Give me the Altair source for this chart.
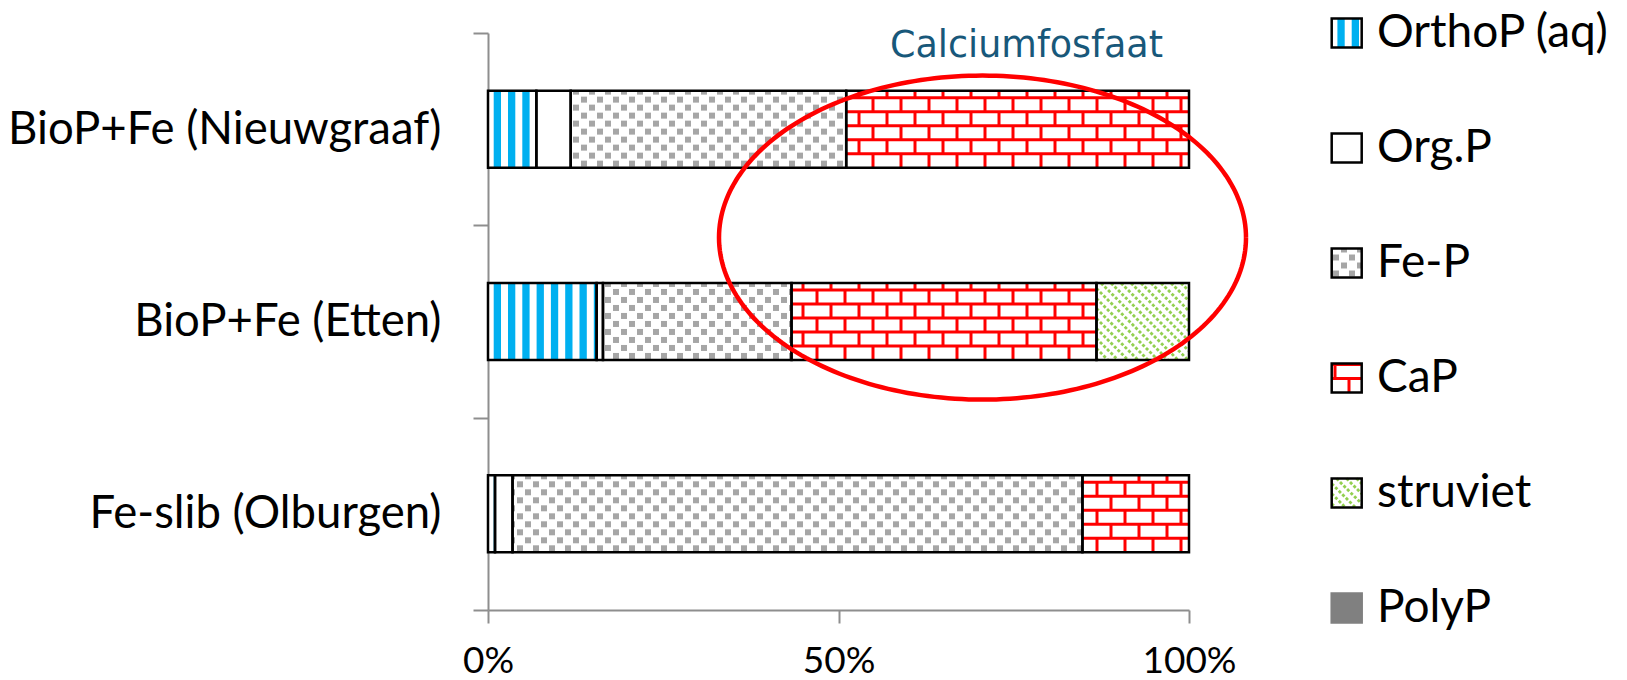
import math

import altair as alt
import pandas as pd

# ---------------------------------------------------------------- data
categories = ["BioP+Fe (Nieuwgraaf)", "BioP+Fe (Etten)", "Fe-slib (Olburgen)"]
components = ["OrthoP (aq)", "Org.P", "Fe-P", "CaP", "struviet", "PolyP"]

# share of total P per fraction (%), in the order of `categories`
ortho_p = [6.9, 15.5, 1.0]
org_p = [4.9, 0.9, 2.5]
fe_p = [39.3, 26.9, 81.3]
ca_p = [48.9, 43.5, 15.2]
struviet = [0.0, 13.2, 0.0]
poly_p = [0.0, 0.0, 0.0]

x_ticks = [0.0, 0.5, 1.0]
callout_text = "Calciumfosfaat"

series = dict(zip(components, [ortho_p, org_p, fe_p, ca_p, struviet, poly_p]))

# ---------------------------------------------------------------- layout / style
PLOT_W, PLOT_H = 701, 577
N = len(categories)
PX_X = PLOT_W / 1.0          # pixels per unit on x (0..1)
PX_Y = PLOT_H / N            # pixels per unit on y (one band per category)
BAR_HALF = 0.2               # half bar thickness, band units

FONT = "Lato"
AXIS_GREY = "#8E8E8E"
BLUE, RED, GREEN, DOT_GREY, POLY_GREY = "#00B0F0", "#FF0000", "#92D050", "#A6A6A6", "#808080"
CALLOUT_COLOR = "#18587A"

# legend block, in the chart's own x/y units
LEG_X0 = (1331.7 - 488) / PX_X
LEG_W = 30 / PX_X
LEG_HALF = 14.5 / PX_Y
LEG_TEXT_X = (1377 - 488) / PX_X
LEG_STEP = 115 / PX_Y

# callout ellipse and its caption, in the chart's own x/y units
ELL_CX, ELL_CY = (982.5 - 488) / PX_X, (610 - 237.6) / PX_Y
ELL_RX, ELL_RY = 263.5 / PX_X, 162 / PX_Y
CAPTION_X, CAPTION_Y = (1026.5 - 488) / PX_X, (610 - 56.7) / PX_Y

# ---------------------------------------------------------------- boxes (bar segments + legend keys)
boxes = []
for ci, cat in enumerate(categories):
    yc = N - ci - 0.5
    start = 0.0
    for comp in components:
        v = series[comp][ci] / 100.0
        if v > 0:
            boxes.append(dict(component=comp, x0=start, x1=start + v,
                              y0=yc - BAR_HALF, y1=yc + BAR_HALF))
        start += v

legend_rows = []
for i, comp in enumerate(components):
    yc = N - i * LEG_STEP
    boxes.append(dict(component=comp, x0=LEG_X0, x1=LEG_X0 + LEG_W,
                      y0=yc - LEG_HALF, y1=yc + LEG_HALF))
    legend_rows.append(dict(label=comp, tx=LEG_TEXT_X, ty=yc))

for b in boxes:
    b["base"] = POLY_GREY if b["component"] == "PolyP" else "white"
    b["edge"] = POLY_GREY if b["component"] == "PolyP" else "black"


def px(b):
    return b["x0"] * PX_X, b["x1"] * PX_X, b["y0"] * PX_Y, b["y1"] * PX_Y


# ---------------------------------------------------------------- fill patterns
def vertical_stripes(b, period=14.3, width=7.3, phase=5.7):
    a, e, lo_y, hi_y = px(b)
    out = []
    k = math.floor((a - phase) / period) - 1
    while phase + k * period <= e:
        s = phase + k * period
        lo, hi = max(s, a), min(s + width, e)
        if hi - lo > 0.3:
            out.append(dict(x0=lo / PX_X, x1=hi / PX_X, y0=b["y0"], y1=b["y1"]))
        k += 1
    return out


def dot_grid(b, dx=16.0, dy=8.0, size=6.0):
    a, e, lo_y, hi_y = px(b)
    out = []
    row = 0
    cy = lo_y + dy / 2
    while cy - size / 2 < hi_y:
        shift = dx / 2 if row % 2 else 0.0
        k = math.floor((a - shift) / dx) - 1
        while shift + k * dx - size / 2 <= e:
            cx = shift + k * dx
            l, r = max(cx - size / 2, a), min(cx + size / 2, e)
            btm, top = max(cy - size / 2, lo_y), min(cy + size / 2, hi_y)
            if r - l > 0.5 and top - btm > 0.5:
                out.append(dict(x0=l / PX_X, x1=r / PX_X, y0=btm / PX_Y, y1=top / PX_Y))
            k += 1
        row += 1
        cy += dy
    return out


def brick_lines(b, row=14.0, brick=28.0, phases=(21.0, 7.0)):
    a, e, lo_y, hi_y = px(b)
    out = []
    k = 1
    while lo_y + k * row < hi_y - 1:
        y = (lo_y + k * row) / PX_Y
        out.append(dict(x=b["x0"], x2=b["x1"], y=y, y2=y))
        k += 1
    r = 0
    while lo_y + r * row < hi_y:
        ylo, yhi = lo_y + r * row, min(lo_y + (r + 1) * row, hi_y)
        ph = phases[r % 2]
        k = math.floor((a - ph) / brick)
        while ph + k * brick < e:
            xv = ph + k * brick
            if a + 1.5 < xv < e - 1.5:
                out.append(dict(x=xv / PX_X, x2=xv / PX_X, y=ylo / PX_Y, y2=yhi / PX_Y))
            k += 1
        r += 1
    return out


def diagonal_lines(b, spacing=10.0):
    a, e, lo_y, hi_y = px(b)
    out = []
    c = math.floor((a + lo_y) / spacing) * spacing
    while c <= e + hi_y:
        xa, xb = max(a, c - hi_y), min(e, c - lo_y)
        if xb - xa > 0.5:
            out.append(dict(x=xa / PX_X, x2=xb / PX_X, y=(c - xa) / PX_Y, y2=(c - xb) / PX_Y))
        c += spacing
    return out


stripe_rows, dot_rows, brick_rows, diag_rows = [], [], [], []
for b in boxes:
    if b["component"] == "OrthoP (aq)":
        stripe_rows += vertical_stripes(b)
    elif b["component"] == "Fe-P":
        dot_rows += dot_grid(b)
    elif b["component"] == "CaP":
        brick_rows += brick_lines(b)
    elif b["component"] == "struviet":
        diag_rows += diagonal_lines(b)

# callout ellipse outline
ellipse_rows = []
steps = 240
for i in range(steps + 1):
    t = 2 * math.pi * i / steps
    ellipse_rows.append(dict(i=i, ex=ELL_CX + ELL_RX * math.cos(t), ey=ELL_CY + ELL_RY * math.sin(t)))

# ---------------------------------------------------------------- encodings
x_scale = alt.Scale(domain=[0, 1], nice=False, zero=False)
y_scale = alt.Scale(domain=[0, N], nice=False, zero=False)


def X(field, axis=None):
    if axis is None:
        return alt.X(field, type="quantitative", scale=x_scale, title=None)
    return alt.X(field, type="quantitative", scale=x_scale, axis=axis, title=None)


def Y(field, axis=None):
    if axis is None:
        return alt.Y(field, type="quantitative", scale=y_scale, title=None)
    return alt.Y(field, type="quantitative", scale=y_scale, axis=axis, title=None)


label_expr = ""
for ci, cat in enumerate(categories):
    label_expr += f"datum.value == {N - ci - 0.5} ? '{cat}' : "
label_expr += "''"
y_values = [i * 0.5 for i in range(2 * N + 1)]

x_axis = alt.Axis(
    values=x_ticks, format=".0%", grid=False, labelFlush=False, labelOverlap=False,
    labelLimit=0, labelFont=FONT, labelFontSize=37, labelColor="black",
    labelBaseline="alphabetic", labelPadding=49, tickSize=13, tickWidth=2,
    tickColor=AXIS_GREY, domainColor=AXIS_GREY, domainWidth=2,
)
y_axis = alt.Axis(
    values=y_values, labelExpr=label_expr, grid=False, labelFlush=False, labelOverlap=False,
    labelLimit=0, labelFont=FONT, labelFontSize=45.5, labelColor="black", labelBaseline="middle",
    labelPadding=32, tickSize=15, tickWidth=2, tickColor=AXIS_GREY,
    tickOpacity={"condition": {"test": "datum.value % 1 != 0", "value": 0}, "value": 1},
    domainColor=AXIS_GREY, domainWidth=2,
)

boxes_df = pd.DataFrame(boxes)

base = alt.Chart(boxes_df).mark_rect(strokeWidth=0).encode(
    x=X("x0", x_axis), x2=alt.X2("x1"),
    y=Y("y0", y_axis), y2=alt.Y2("y1"),
    fill=alt.Fill("base:N", scale=None),
)

stripes = alt.Chart(pd.DataFrame(stripe_rows)).mark_rect(fill=BLUE, strokeWidth=0).encode(
    x=X("x0"), x2=alt.X2("x1"), y=Y("y0"), y2=alt.Y2("y1"),
)

dots = alt.Chart(pd.DataFrame(dot_rows)).mark_rect(fill=DOT_GREY, strokeWidth=0).encode(
    x=X("x0"), x2=alt.X2("x1"), y=Y("y0"), y2=alt.Y2("y1"),
)

bricks = alt.Chart(pd.DataFrame(brick_rows)).mark_rule(color=RED, strokeWidth=3).encode(
    x=X("x"), x2=alt.X2("x2"), y=Y("y"), y2=alt.Y2("y2"),
)

diagonals = alt.Chart(pd.DataFrame(diag_rows)).mark_rule(
    color=GREEN, strokeWidth=2.8, strokeDash=[3, 2]
).encode(
    x=X("x"), x2=alt.X2("x2"), y=Y("y"), y2=alt.Y2("y2"),
)

borders = alt.Chart(boxes_df).mark_rect(fillOpacity=0, fill="white", strokeWidth=2.5).encode(
    x=X("x0"), x2=alt.X2("x1"), y=Y("y0"), y2=alt.Y2("y1"),
    stroke=alt.Stroke("edge:N", scale=None),
)

ellipse = alt.Chart(pd.DataFrame(ellipse_rows)).mark_line(color=RED, strokeWidth=4.5).encode(
    x=X("ex"), y=Y("ey"), order=alt.Order("i:Q"),
)

legend_text = alt.Chart(pd.DataFrame(legend_rows)).mark_text(
    align="left", baseline="middle", font=FONT, fontSize=46, color="black"
).encode(x=X("tx"), y=Y("ty"), text="label:N")

caption = alt.Chart(pd.DataFrame([dict(tx=CAPTION_X, ty=CAPTION_Y, label=callout_text)])).mark_text(
    align="center", baseline="alphabetic", font="DejaVu Sans", fontSize=36.5, color=CALLOUT_COLOR
).encode(x=X("tx"), y=Y("ty"), text="label:N")

chart = alt.layer(
    base, stripes, dots, bricks, diagonals, borders, ellipse, legend_text, caption
).properties(
    width=PLOT_W,
    height=PLOT_H,
    autosize=alt.AutoSizeParams(type="none"),
    padding={"left": 488, "top": 33, "right": 438, "bottom": 70},
    background="white",
).configure_view(stroke=None)

chart.save("out.html", embed_options={"renderer": "svg", "actions": False})
